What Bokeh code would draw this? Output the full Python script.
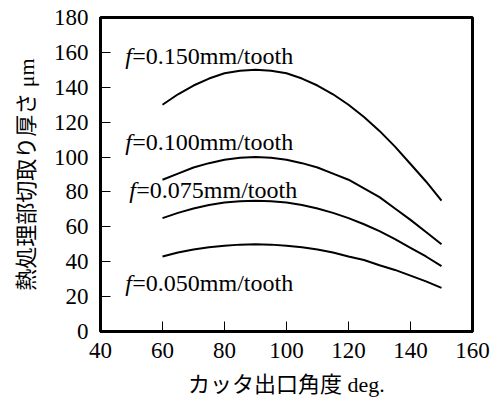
from bokeh.plotting import figure
from bokeh.models import Range1d, FixedTicker, Label
from bokeh.embed import file_html
from bokeh.resources import INLINE

angle = [60, 65, 70, 75, 80, 85, 90, 95, 100, 105, 110, 115, 120, 125, 130, 135, 140, 145, 150]
f150 = [130, 136, 141, 145, 148, 149.5, 150, 149.5, 148, 145, 141, 136, 130, 123, 115, 106, 96, 86, 75]
f100 = [87, 90.5, 94, 96.5, 98.5, 99.6, 100, 99.6, 98.5, 96.5, 94, 90.5, 87, 82, 77, 70.5, 64, 57, 50]
f075 = [65, 68, 70.5, 72.5, 74, 74.7, 75, 74.7, 74, 72.5, 70.5, 68, 65, 61.5, 57.5, 53, 48, 43, 37.5]
f050 = [43, 45.3, 47, 48.3, 49.2, 49.8, 50, 49.8, 49.2, 48.3, 47, 45.3, 43, 41, 38, 35.3, 32, 28.7, 25]
series = [f150, f100, f075, f050]
label_texts = ["=0.150mm/tooth", "=0.100mm/tooth", "=0.075mm/tooth", "=0.050mm/tooth"]
x_ticks = [40, 60, 80, 100, 120, 140, 160]
y_ticks = [0, 20, 40, 60, 80, 100, 120, 140, 160, 180]

SERIF = "Times New Roman"
CJK = "Times New Roman, Noto Sans CJK JP"

p = figure(width=491, height=401, output_backend="svg", toolbar_location=None,
           x_range=Range1d(40, 160), y_range=Range1d(0, 180),
           min_border_left=100, min_border_right=19, min_border_top=17, min_border_bottom=70)

p.xgrid.visible = False
p.ygrid.visible = False
p.background_fill_color = "white"
p.border_fill_color = "white"
p.outline_line_color = "black"
p.outline_line_width = 3

for ax in (p.xaxis, p.yaxis):
    ax.axis_line_width = 3
    ax.axis_line_color = "black"
    ax.major_tick_in = 10
    ax.major_tick_out = 0
    ax.major_tick_line_width = 1
    ax.minor_tick_line_color = None
    ax.major_label_text_font = SERIF
    ax.major_label_text_font_style = "normal"
    ax.major_label_text_font_size = "23px"
    ax.major_label_text_color = "black"
    ax.axis_label_text_font = CJK
    ax.axis_label_text_font_size = "22px"
    ax.axis_label_text_font_style = "normal"
    ax.axis_label_text_color = "black"

p.xaxis.ticker = FixedTicker(ticks=x_ticks)
p.yaxis.ticker = FixedTicker(ticks=y_ticks)
p.xaxis.major_label_standoff = 11
p.yaxis.major_label_standoff = 12
p.xaxis.axis_label = "カッタ出口角度 deg."
p.yaxis.axis_label = "熱処理部切取り厚さ μm"
p.xaxis.axis_label_standoff = 11
p.yaxis.axis_label_standoff = 12

for s in series:
    p.line(angle, s, line_color="black", line_width=2)

label_pos = [(48, 158.2), (48, 108.9), (49.3, 81.1), (48, 27.8)]
for (lx, ly), t in zip(label_pos, label_texts):
    p.add_layout(Label(x=lx, y=ly, text="f", text_font=SERIF, text_font_style="italic",
                       text_font_size="24px", text_baseline="middle", text_color="black"))
    p.add_layout(Label(x=lx, y=ly, x_offset=7, text=t, text_font=SERIF,
                       text_font_size="24px", text_baseline="middle", text_color="black"))

open("out.html", "w").write(file_html(p, INLINE))
